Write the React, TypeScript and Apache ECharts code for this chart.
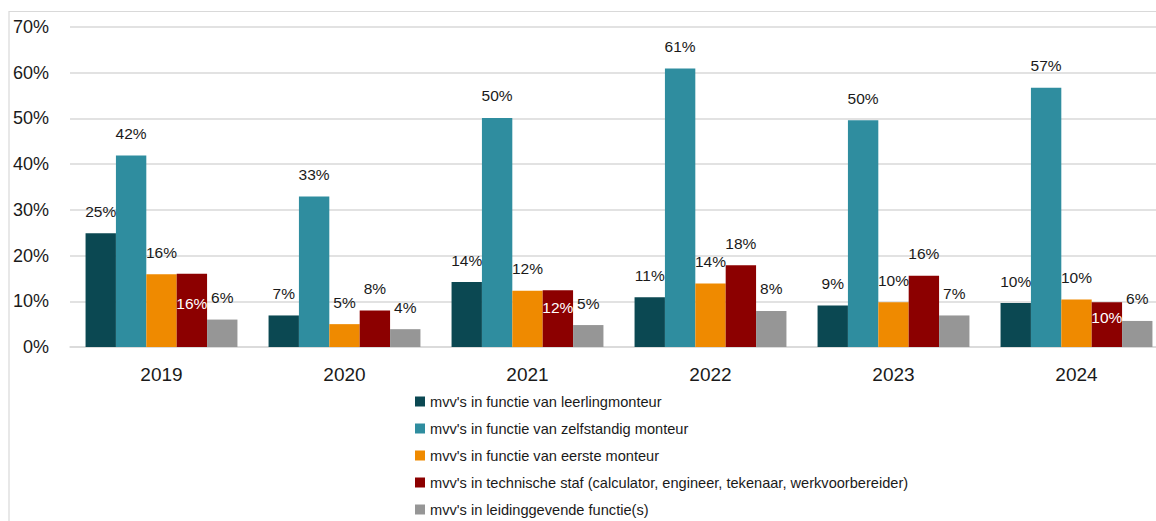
import React, { useEffect, useRef } from "react";
import * as echarts from "echarts";

const years = ["2019", "2020", "2021", "2022", "2023", "2024"];
const seriesNames = [
  "mvv's in functie van leerlingmonteur",
  "mvv's in functie van zelfstandig monteur",
  "mvv's in functie van eerste monteur",
  "mvv's in technische staf (calculator, engineer, tekenaar, werkvoorbereider)",
  "mvv's in leidinggevende functie(s)",
];
const leerlingmonteur = [24.9, 6.9, 14.2, 10.9, 9.1, 9.6];
const zelfstandigMonteur = [41.9, 32.9, 50.1, 60.9, 49.6, 56.7];
const eersteMonteur = [15.9, 5.0, 12.3, 13.9, 9.8, 10.4];
const technischeStaf = [16.0, 8.0, 12.4, 17.9, 15.6, 9.8];
const leidinggevend = [6.0, 3.9, 4.8, 7.9, 6.9, 5.7];
const yTicks = [0, 10, 20, 30, 40, 50, 60, 70];

const colors = ["#0B4852", "#2F8D9F", "#EF8A00", "#8C0000", "#969696"];
// label inside the bar (white) for these points of the technische staf series
const insideLabel: Record<number, number> = { 0: 22, 2: 9, 5: 7 };

const FONT = "Liberation Sans, Arial, sans-serif";

export default function App() {
  const ref = useRef<HTMLDivElement>(null);
  useEffect(() => {
    if (!ref.current) return;
    const chart = echarts.init(ref.current, undefined, { renderer: "svg" });
    const all = [leerlingmonteur, zelfstandigMonteur, eersteMonteur, technischeStaf, leidinggevend];
    const series = all.map((vals, si) => ({
      type: "bar",
      name: seriesNames[si],
      barGap: "0%",
      barCategoryGap: "17%",
      itemStyle: { color: colors[si] },
      label: {
        show: true,
        position: "top",
        distance: 14,
        fontFamily: FONT,
        fontSize: 15.5,
        color: "#1a1a1a",
        formatter: (p: any) => Math.round(p.value) + "%",
      },
      data: vals.map((v, i) =>
        si === 3 && insideLabel[i] !== undefined
          ? { value: v, label: { position: "insideTop", distance: insideLabel[i], color: "#ffffff" } }
          : v
      ),
    }));
    chart.setOption({
      animation: false,
      color: colors,
      grid: { left: 70, right: -12, top: 27, bottom: 174, containLabel: false, outerBoundsMode: "none" },
      graphic: [
        {
          type: "rect",
          shape: { x: 9, y: 11.5, width: 1300, height: 600 },
          style: { fill: "none", stroke: "#d9d9d9", lineWidth: 1.2 },
          silent: true,
          z: -1,
        },
      ],
      xAxis: {
        type: "category",
        data: years,
        axisTick: { show: false },
        axisLine: { lineStyle: { color: "#d9d9d9", width: 1.5 } },
        axisLabel: { fontFamily: FONT, fontSize: 19, color: "#1a1a1a", margin: 18 },
      },
      yAxis: {
        type: "value",
        min: yTicks[0],
        max: yTicks[yTicks.length - 1],
        interval: 10,
        axisLine: { show: false },
        axisTick: { show: false },
        splitLine: { lineStyle: { color: "#d9d9d9", width: 1.5 } },
        axisLabel: { fontFamily: FONT, fontSize: 18, color: "#1a1a1a", margin: 21, formatter: "{value}%" },
      },
      legend: {
        orient: "vertical",
        left: 415,
        top: 394,
        padding: 0,
        itemWidth: 10,
        itemHeight: 10,
        itemGap: 12,
        icon: "rect",
        data: seriesNames,
        textStyle: { fontFamily: FONT, fontSize: 14.6, lineHeight: 15, color: "#1a1a1a" },
      },
      series,
    });
    return () => chart.dispose();
  }, []);
  return (
    <div
      ref={ref}
      style={{ position: "absolute", left: 0, top: 0, width: 1156, height: 521, background: "#fff" }}
    />
  );
}
